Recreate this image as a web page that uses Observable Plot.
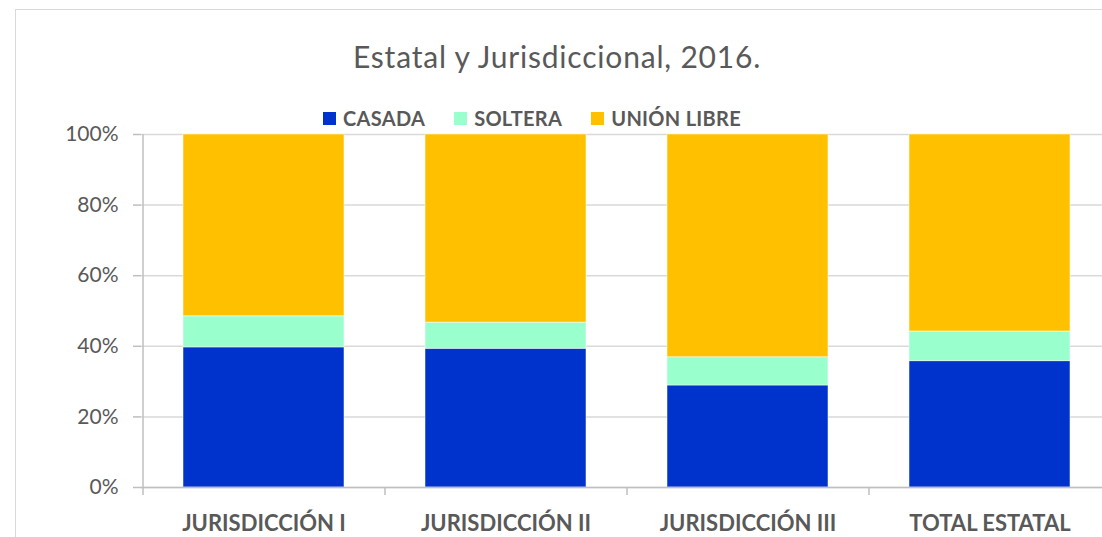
<!DOCTYPE html>
<html>
<head>
<meta charset="utf-8">
<script src="https://cdn.jsdelivr.net/npm/d3@7"></script>
<script src="https://cdn.jsdelivr.net/npm/@observablehq/plot@0.6"></script>
<style>
  html, body { margin: 0; padding: 0; background: #fff; overflow: hidden; }
  #wrap { position: relative; width: 1102px; height: 537px; overflow: hidden; font-family: Lato, "Open Sans", sans-serif; }
  #frame { position: absolute; left: 15px; top: 9px; width: 1200px; height: 700px; border: 1px solid #d9d9d9; box-sizing: border-box; }
  #title { position: absolute; left: 0; top: 41px; width: 1114px; text-align: center; font-size: 30px; letter-spacing: 0.8px; color: #595959; line-height: 1; }
  #legend { position: absolute; left: 323px; top: 108px; display: flex; font-size: 20px; font-weight: bold; color: #595959; line-height: 1; }
  .item { display: flex; align-items: center; margin-right: 29px; }
  .item span:last-child { letter-spacing: 0.3px; }
  .sw { width: 13px; height: 13px; margin-right: 7px; display: inline-block; }
  #chart { position: absolute; left: 0; top: 0; width: 1130px; }
  #chart svg { max-width: none !important; }
</style>
</head>
<body>
<div id="wrap">
  <div id="frame"></div>
  <div id="title"></div>
  <div id="legend"></div>
  <div id="chart"></div>
</div>
<script>
const title = "Estatal y Jurisdiccional, 2016.";
const categories = ["JURISDICCIÓN I", "JURISDICCIÓN II", "JURISDICCIÓN III", "TOTAL ESTATAL"];
const seriesNames = ["CASADA", "SOLTERA", "UNIÓN LIBRE"];
const seriesColors = ["#0033cc", "#99ffcc", "#ffc000"];
const casada = [39.7, 39.3, 28.9, 35.8];
const soltera = [8.8, 7.4, 8.0, 8.4];
const unionLibre = [51.5, 53.3, 63.1, 55.8];
const yTicks = [0, 20, 40, 60, 80, 100];

const seriesValues = [casada, soltera, unionLibre];
const data = [];
seriesNames.forEach((s, si) => {
  categories.forEach((c, ci) => data.push({cat: c, series: s, value: seriesValues[si][ci]}));
});

document.getElementById("title").textContent = title;
const legend = document.getElementById("legend");
seriesNames.forEach((s, i) => {
  const it = document.createElement("div");
  it.className = "item";
  const sw = document.createElement("span");
  sw.className = "sw";
  sw.style.background = seriesColors[i];
  const tx = document.createElement("span");
  tx.textContent = s;
  it.appendChild(sw); it.appendChild(tx);
  legend.appendChild(it);
});

const halfStep = 121;
const chart = Plot.plot({
  width: 1130,
  height: 537,
  marginLeft: 141,
  marginRight: 19,
  marginTop: 134,
  marginBottom: 50,
  style: {fontFamily: "Lato, 'Open Sans', sans-serif", color: "#595959", background: "transparent", overflow: "visible", maxWidth: "none"},
  x: {domain: categories, paddingInner: 0.335, paddingOuter: 0.1675, label: null},
  y: {domain: [0, 100], label: null},
  color: {domain: seriesNames, range: seriesColors},
  marks: [
    Plot.gridY(yTicks, {stroke: "#d9d9d9", strokeOpacity: 1, strokeWidth: 1.5}),
    Plot.barY(data, Plot.stackY({x: "cat", y: "value", fill: "series", order: seriesNames, stroke: "#ffffff", strokeOpacity: 0.5, strokeWidth: 1})),
    Plot.ruleY([0], {stroke: "#bfbfbf", strokeWidth: 1.5}),
    Plot.ruleX([0], {x: () => categories[0], dx: -halfStep, y1: 0, y2: 100, stroke: "#bfbfbf", strokeWidth: 1.5}),
    Plot.ruleX(categories, {x: d => d, dx: -halfStep, y1: 0, y2: -2.3, stroke: "#bfbfbf", strokeWidth: 1.5}),
    Plot.ruleX([categories[categories.length - 1]], {x: d => d, dx: halfStep, y1: 0, y2: -2.3, stroke: "#bfbfbf", strokeWidth: 1.5}),
    Plot.axisY(yTicks, {tickFormat: d => d + "%", tickSize: 8, tickPadding: 15, stroke: "#bfbfbf", strokeWidth: 1.5, fontSize: 21, fill: "#595959", label: null}),
    Plot.axisX({tickSize: 0, tickPadding: 28, fontSize: 22, fontWeight: "bold", fill: "#595959", label: null, style: {letterSpacing: "0.6px"}})
  ]
});
chart.style.maxWidth = "none";
document.getElementById("chart").appendChild(chart);
</script>
</body>
</html>
